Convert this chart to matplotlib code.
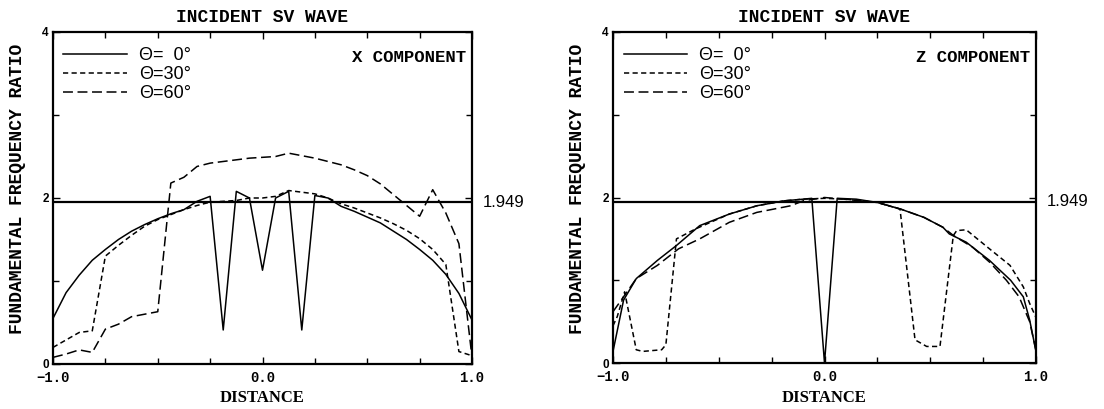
import numpy as np
import matplotlib
matplotlib.use("Agg")
import matplotlib.pyplot as plt
from matplotlib.ticker import FixedLocator

# ---- data ----
# X component (left panel)
x_grid = [-1.0, -0.9375, -0.875, -0.8125, -0.75, -0.6875, -0.625, -0.5625,
          -0.5, -0.4375, -0.375, -0.3125, -0.25, -0.1875, -0.125, -0.0625,
          0.0, 0.0625, 0.125, 0.1875, 0.25, 0.3125, 0.375, 0.4375,
          0.5, 0.5625, 0.625, 0.6875, 0.75, 0.8125, 0.875, 0.9375, 1.0]
xc_th0 = [0.55, 0.86, 1.07, 1.25, 1.38, 1.50, 1.60, 1.68,
          1.75, 1.81, 1.86, 1.96, 2.02, 0.41, 2.08, 2.00,
          1.13, 2.00, 2.08, 0.41, 2.03, 2.00, 1.90, 1.84,
          1.77, 1.70, 1.60, 1.50, 1.38, 1.25, 1.08, 0.85, 0.53]
xc_th30 = [0.20, 0.29, 0.38, 0.40, 1.30, 1.43, 1.55, 1.66,
           1.74, 1.80, 1.86, 1.91, 1.95, 1.96, 1.97, 2.00,
           2.00, 2.02, 2.09, 2.07, 2.05, 2.00, 1.93, 1.88,
           1.82, 1.76, 1.69, 1.61, 1.51, 1.38, 1.20, 0.15, 0.10]
xc_th60 = [0.08, 0.12, 0.17, 0.14, 0.42, 0.48, 0.57, 0.60,
           0.63, 2.18, 2.25, 2.38, 2.42, 2.44, 2.46, 2.48,
           2.49, 2.50, 2.54, 2.51, 2.48, 2.44, 2.40, 2.34,
           2.27, 2.17, 2.04, 1.91, 1.78, 2.10, 1.82, 1.45, 0.08]

# Z component (right panel)
zx_th0 = [-1.0, -0.95, -0.89, -0.79, -0.70, -0.59, -0.45, -0.32, -0.19, -0.10,
          -0.06, 0.0, 0.06, 0.15, 0.25, 0.36, 0.47, 0.56, 0.59, 0.67,
          0.78, 0.88, 0.94, 0.97, 1.0]
zc_th0 = [0.14, 0.76, 1.02, 1.24, 1.42, 1.66, 1.80, 1.90, 1.96, 1.98,
          1.99, 0.0, 1.99, 1.98, 1.94, 1.86, 1.76, 1.64, 1.56, 1.46,
          1.24, 1.00, 0.80, 0.52, 0.14]
zx_th30 = [-1.0, -0.98, -0.945, -0.89, -0.86, -0.77, -0.75, -0.70, -0.61, -0.45,
           -0.32, -0.19, -0.10, 0.0, 0.10, 0.25, 0.357, 0.428, 0.483, 0.546,
           0.609, 0.625, 0.67, 0.78, 0.877, 0.94, 0.97, 1.0]
zc_th30 = [0.45, 0.56, 0.86, 0.16, 0.14, 0.16, 0.22, 1.50, 1.62, 1.80,
           1.90, 1.96, 1.98, 1.99, 1.98, 1.94, 1.86, 0.28, 0.20, 0.20,
           1.54, 1.60, 1.61, 1.38, 1.18, 0.92, 0.72, 0.55]
zx_th60 = [-1.0, -0.95, -0.89, -0.79, -0.69, -0.59, -0.45, -0.32, -0.16, -0.10,
           0.0, 0.09, 0.25, 0.36, 0.47, 0.56, 0.61, 0.70, 0.78, 0.86,
           0.92, 0.97, 1.0]
zc_th60 = [0.62, 0.80, 1.02, 1.18, 1.38, 1.50, 1.70, 1.82, 1.90, 1.96,
           2.00, 1.98, 1.94, 1.86, 1.76, 1.64, 1.54, 1.40, 1.22, 1.00,
           0.80, 0.50, 0.15]

ref_level = 1.949
labels = ["\u0398=  0\u00b0", "\u0398=30\u00b0", "\u0398=60\u00b0"]
title = "INCIDENT SV WAVE"
ylab = "FUNDAMENTAL FREQUENCY RATIO"
xlab = "DISTANCE"

mono = ["Liberation Mono", "DejaVu Sans Mono"]
serif = ["Liberation Serif", "DejaVu Serif"]
sans = ["Liberation Sans", "DejaVu Sans"]

short_dash = (0, (3.4, 2.2))
long_dash = (0, (6.5, 3.0))


def panel(ax, xs, ys, comp):
    h0, = ax.plot(xs[0], ys[0], color="k", lw=1.1, ls="-")
    h1, = ax.plot(xs[1], ys[1], color="k", lw=1.1, ls=short_dash)
    h2, = ax.plot(xs[2], ys[2], color="k", lw=1.1, ls=long_dash)
    ax.axhline(ref_level, color="k", lw=1.6)

    ax.set_xlim(-1, 1)
    ax.set_ylim(0, 4)
    ax.xaxis.set_major_locator(FixedLocator([-1, 0, 1]))
    ax.xaxis.set_minor_locator(FixedLocator([-0.75, -0.5, -0.25, 0.25, 0.5, 0.75]))
    ax.set_xticklabels(["\u22121.0", "0.0", "1.0"], family=mono, fontsize=10,
                       fontweight="bold")
    ax.yaxis.set_major_locator(FixedLocator([0, 2, 4]))
    ax.yaxis.set_minor_locator(FixedLocator([1, 3]))
    ax.set_yticklabels(["0", "2", "4"], family=sans, fontsize=8.5,
                       fontweight="bold")
    ax.tick_params(which="both", direction="in", top=True, right=True,
                   width=1.0)
    ax.tick_params(which="major", length=5, pad=5)
    ax.tick_params(which="minor", length=4)
    ax.tick_params(axis="y", pad=3)
    for s in ax.spines.values():
        s.set_linewidth(1.6)

    ax.set_title(title, family=mono, fontsize=13, fontweight="bold", pad=7)
    ax.text(-0.084, 0.526, ylab, transform=ax.transAxes, rotation=90,
            ha="center", va="center", family=mono, fontsize=13,
            fontweight="bold")
    ax.set_xlabel(xlab, family=serif, fontsize=12, fontweight="bold",
                  labelpad=4)
    ax.text(0.986, 0.922, comp, transform=ax.transAxes, ha="right",
            va="center", family=mono, fontsize=12.5, fontweight="bold")
    ax.text(1.026, ref_level, f"{ref_level:.3f}",
            transform=ax.get_yaxis_transform(), ha="left", va="center",
            family=sans, fontsize=12)
    ax.legend([h0, h1, h2], labels, loc="upper left",
              bbox_to_anchor=(0.025, 0.955), frameon=False, borderpad=0,
              borderaxespad=0, handlelength=3.5, handletextpad=0.7,
              labelspacing=0.12, prop={"family": sans, "size": 13})


fig = plt.figure(figsize=(11.04, 4.09), dpi=100)
ax1 = fig.add_axes([53 / 1104, 1 - 364 / 409, 419 / 1104, 332 / 409])
ax2 = fig.add_axes([613 / 1104, 1 - 363 / 409, 423 / 1104, 331 / 409])

panel(ax1, [x_grid, x_grid, x_grid], [xc_th0, xc_th30, xc_th60], "X COMPONENT")
panel(ax2, [zx_th0, zx_th30, zx_th60], [zc_th0, zc_th30, zc_th60], "Z COMPONENT")

fig.savefig("out.png", dpi=100)
